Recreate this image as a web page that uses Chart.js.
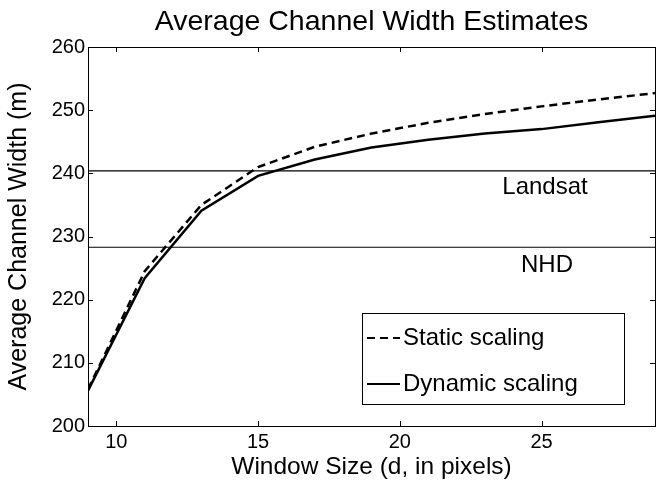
<!DOCTYPE html>
<html>
<head>
<meta charset="utf-8">
<title>Average Channel Width Estimates</title>
<script src="https://cdn.jsdelivr.net/npm/chart.js@4.4.1/dist/chart.umd.min.js"></script>
<style>
  html, body { margin: 0; padding: 0; background: #fff; }
  #wrap { width: 658px; height: 487px; }
</style>
</head>
<body>
<div id="wrap"><canvas id="ch" width="658" height="487"></canvas></div>
<script>
// datos
var VENTANA = [9, 11, 13, 15, 17, 19, 21, 23, 25, 27, 29];
var ESTATICO = [205.8, 224.5, 235.0, 241.0, 244.2, 246.3, 248.0, 249.4, 250.6, 251.7, 252.7];
var DINAMICO = [205.6, 223.4, 234.1, 239.6, 242.2, 244.1, 245.3, 246.3, 247.0, 248.1, 249.1];
var LANDSAT = 240.4;
var NHD = 228.3;
var X_TICKS = [10, 15, 20, 25];
var Y_TICKS = [200, 210, 220, 230, 240, 250, 260];
var X_RANGO = [9, 29];
var TITULO = 'Average Channel Width Estimates';

var FUENTE = '"Liberation Sans", Arial, Helvetica, sans-serif';
var NEGRO = '#000';

function puntos(xs, ys) {
  return xs.map(function (x, i) { return { x: x, y: ys[i] }; });
}

// titulo centrado sobre el area, marco, ticks hacia dentro, textos y leyenda
var marco = {
  id: 'marco',
  afterDraw: function (chart) {
    var ctx = chart.ctx, a = chart.chartArea;
    var sx = chart.scales.x, sy = chart.scales.y;
    ctx.save();

    ctx.fillStyle = NEGRO;
    ctx.font = '28.5px ' + FUENTE;
    ctx.textAlign = 'center';
    ctx.textBaseline = 'alphabetic';
    ctx.fillText(TITULO, (a.left + a.right) / 2, 30);

    ctx.strokeStyle = NEGRO;
    ctx.lineWidth = 1;
    ctx.strokeRect(Math.round(a.left) + 0.5, Math.round(a.top) + 0.5,
      Math.round(a.right - a.left), Math.round(a.bottom - a.top));
    ctx.beginPath();
    X_TICKS.forEach(function (v) {
      var px = Math.round(sx.getPixelForValue(v)) + 0.5;
      ctx.moveTo(px, a.bottom); ctx.lineTo(px, a.bottom - 5);
      ctx.moveTo(px, a.top); ctx.lineTo(px, a.top + 5);
    });
    Y_TICKS.forEach(function (v) {
      var py = Math.round(sy.getPixelForValue(v)) + 0.5;
      ctx.moveTo(a.left, py); ctx.lineTo(a.left + 5, py);
      ctx.moveTo(a.right, py); ctx.lineTo(a.right - 5, py);
    });
    ctx.stroke();

    // etiquetas de las lineas de referencia
    ctx.font = '24px ' + FUENTE;
    ctx.textBaseline = 'middle';
    ctx.fillText('Landsat', a.right - 110, sy.getPixelForValue(LANDSAT) + 17);
    ctx.fillText('NHD', a.right - 108, sy.getPixelForValue(NHD) + 18);

    // leyenda
    var bx = a.right - 293, by = a.bottom - 113, bw = 262, bh = 91;
    ctx.fillStyle = '#fff';
    ctx.fillRect(bx, by, bw, bh);
    ctx.lineWidth = 1;
    ctx.strokeRect(Math.round(bx) + 0.5, Math.round(by) + 0.5, bw, bh);
    chart.data.datasets.slice(0, 2).forEach(function (ds, i) {
      var yy = by + 25 + i * 46;
      ctx.beginPath();
      ctx.setLineDash(ds.borderDash || []);
      ctx.lineWidth = 2;
      ctx.moveTo(bx + 5, yy); ctx.lineTo(bx + 38, yy);
      ctx.stroke();
      ctx.setLineDash([]);
      ctx.fillStyle = NEGRO;
      ctx.textAlign = 'left';
      ctx.fillText(ds.label, bx + 41, yy);
    });
    ctx.restore();
  }
};

new Chart(document.getElementById('ch'), {
  type: 'line',
  data: {
    datasets: [
      { label: 'Static scaling', data: puntos(VENTANA, ESTATICO), borderColor: NEGRO,
        borderWidth: 2.5, borderDash: [8, 5], pointRadius: 0, tension: 0, fill: false },
      { label: 'Dynamic scaling', data: puntos(VENTANA, DINAMICO), borderColor: NEGRO,
        borderWidth: 2.5, pointRadius: 0, tension: 0, fill: false },
      { label: 'Landsat', data: puntos(X_RANGO, [LANDSAT, LANDSAT]), borderColor: NEGRO,
        borderWidth: 1.2, pointRadius: 0, fill: false },
      { label: 'NHD', data: puntos(X_RANGO, [NHD, NHD]), borderColor: NEGRO,
        borderWidth: 1.2, pointRadius: 0, fill: false }
    ]
  },
  options: {
    responsive: false,
    animation: false,
    layout: { padding: { left: 0, right: 3, top: 47, bottom: 0 } },
    plugins: {
      legend: { display: false },
      tooltip: { enabled: false },
      title: { display: false }
    },
    scales: {
      x: {
        type: 'linear',
        min: X_RANGO[0], max: X_RANGO[1],
        afterBuildTicks: function (s) { s.ticks = X_TICKS.map(function (v) { return { value: v }; }); },
        afterFit: function (s) { s.height = 61; },
        grid: { display: false, drawTicks: false },
        border: { display: false },
        ticks: { color: NEGRO, padding: 4, maxRotation: 0, font: { family: FUENTE, size: 20 } },
        title: { display: true, text: 'Window Size (d, in pixels)', color: NEGRO,
          font: { family: FUENTE, size: 24.5 }, padding: { top: 0, bottom: 5 } }
      },
      y: {
        min: 200, max: 260,
        afterBuildTicks: function (s) { s.ticks = Y_TICKS.map(function (v) { return { value: v }; }); },
        afterFit: function (s) { s.width = 88; },
        grid: { display: false, drawTicks: false },
        border: { display: false },
        ticks: { color: NEGRO, padding: 3, font: { family: FUENTE, size: 20 } },
        title: { display: true, text: 'Average Channel Width (m)', color: NEGRO,
          font: { family: FUENTE, size: 25 }, padding: { top: 4, bottom: 0 } }
      }
    }
  },
  plugins: [marco]
});
</script>
</body>
</html>
